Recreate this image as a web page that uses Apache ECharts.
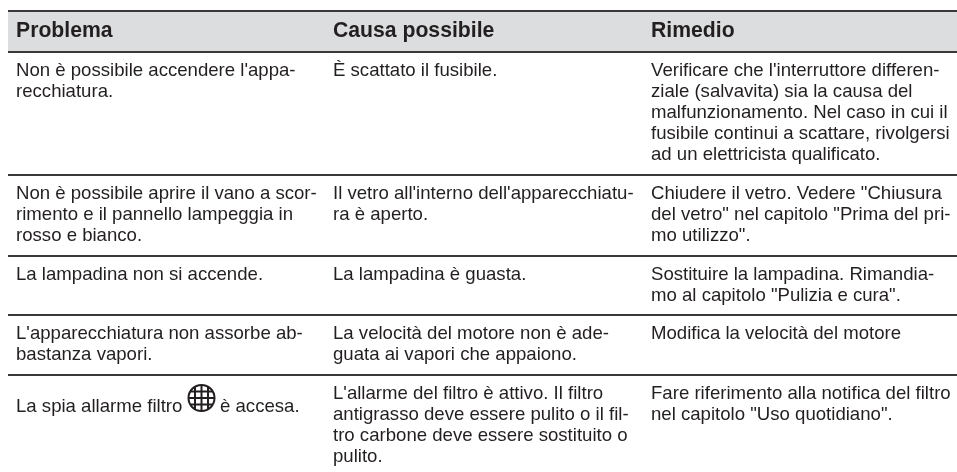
<!DOCTYPE html>
<html><head><meta charset="utf-8">
<style>html,body{margin:0;padding:0;background:#fff}#c{width:957px;height:472px}</style>
<script src="https://cdn.jsdelivr.net/npm/echarts@6/dist/echarts.min.js"></script>
</head><body><div id="c"></div>
<script>
const headers = ["Problema", "Causa possibile", "Rimedio"];
const problema = [
  ["Non è possibile accendere l'appa-", "recchiatura."],
  ["Non è possibile aprire il vano a scor-", "rimento e il pannello lampeggia in", "rosso e bianco."],
  ["La lampadina non si accende."],
  ["L'apparecchiatura non assorbe ab-", "bastanza vapori."],
  ["La spia allarme filtro ", "è accesa."]
];
const causa = [
  ["È scattato il fusibile."],
  ["Il vetro all'interno dell'apparecchiatu-", "ra è aperto."],
  ["La lampadina è guasta."],
  ["La velocità del motore non è ade-", "guata ai vapori che appaiono."],
  ["L'allarme del filtro è attivo. Il filtro", "antigrasso deve essere pulito o il fil-", "tro carbone deve essere sostituito o", "pulito."]
];
const rimedio = [
  ["Verificare che l'interruttore differen-", "ziale (salvavita) sia la causa del", "malfunzionamento. Nel caso in cui il", "fusibile continui a scattare, rivolgersi", "ad un elettricista qualificato."],
  ["Chiudere il vetro. Vedere \"Chiusura", "del vetro\" nel capitolo \"Prima del pri-", "mo utilizzo\"."],
  ["Sostituire la lampadina. Rimandia-", "mo al capitolo \"Pulizia e cura\"."],
  ["Modifica la velocità del motore"],
  ["Fare riferimento alla notifica del filtro", "nel capitolo \"Uso quotidiano\"."]
];

// layout
const L = {left: 8, right: 957, top: 11, headBottom: 52, textX: [16, 333, 651],
  rules: [11, 52, 175, 256, 315, 375], firstBase: [76, 199, 280, 339, 399], lh: 21,
  font: '"Liberation Sans", Arial, sans-serif', size: 18.6, head: 21.2, ink: '#231f20'};

const cols = [problema, causa, rimedio];
const items = [{t:'head'}];
L.rules.forEach(y => items.push({t:'rule', y}));
headers.forEach((h,c) => items.push({t:'text', x:L.textX[c], y:37, s:h, bold:true}));
cols.forEach((col,c) => col.forEach((row,r) => row.forEach((line,i) => {
  let x = L.textX[c], y = L.firstBase[r] + i*L.lh;
  if (c===0 && r===4) { y = 412; if (i===1) x = 220; }
  items.push({t:'text', x, y, s:line});
})));
items.push({t:'icon', x:201.5, y:398, r:13});

function render(params, api) {
  const it = items[params.dataIndex];
  if (it.t==='head') {
    const a = api.coord([L.left,L.top]), b = api.coord([L.right,L.headBottom]);
    return {type:'rect', shape:{x:a[0],y:a[1],width:b[0]-a[0],height:b[1]-a[1]}, style:{fill:'#dcddde'}};
  }
  if (it.t==='rule') {
    const a = api.coord([L.left,it.y]), b = api.coord([L.right,it.y]);
    return {type:'line', shape:{x1:a[0],y1:a[1],x2:b[0],y2:b[1]}, style:{stroke:'#3a3839',lineWidth:2}};
  }
  if (it.t==='text') {
    const fs = it.bold ? L.head : L.size;
    const p = api.coord([it.x, it.y - fs*0.29]);
    return {type:'text', x:p[0], y:p[1], style:{text:it.s, fill:L.ink, align:'left', verticalAlign:'middle',
      font:`${it.bold?'bold ':''}${fs}px ${L.font}`}};
  }
  const c = api.coord([it.x,it.y]), r = it.r, ch = [];
  const st = {stroke:'#231f20', lineWidth:2, fill:null};
  ch.push({type:'circle', shape:{cx:c[0],cy:c[1],r}, style:st});
  [-6.5,0,6.5].forEach(d => {
    const h = Math.sqrt(r*r-d*d);
    ch.push({type:'line', shape:{x1:c[0]+d,y1:c[1]-h,x2:c[0]+d,y2:c[1]+h}, style:st});
    ch.push({type:'line', shape:{x1:c[0]-h,y1:c[1]+d,x2:c[0]+h,y2:c[1]+d}, style:st});
  });
  return {type:'group', children:ch};
}

const chart = echarts.init(document.getElementById('c'), null, {renderer:'canvas'});
chart.setOption({
  animation:false,
  backgroundColor:'#fff',
  grid:{left:0,right:0,top:0,bottom:0},
  xAxis:{type:'value',min:0,max:957,show:false},
  yAxis:{type:'value',min:0,max:472,inverse:true,show:false},
  series:[{type:'custom', coordinateSystem:'cartesian2d', clip:false, silent:true,
    data:items.map((_,i)=>[i,i]), renderItem:render}]
});
</script></body></html>
